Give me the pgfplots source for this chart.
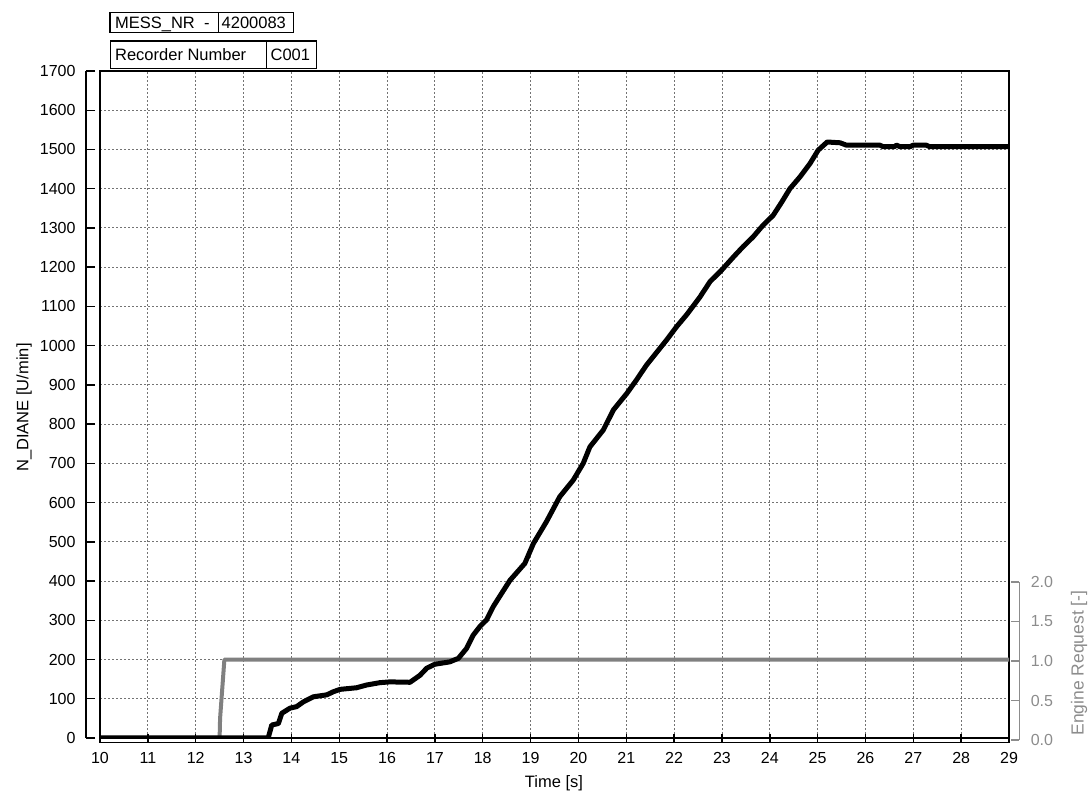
\documentclass[border=0pt]{standalone}
\usepackage{fontspec}
\setmainfont{Liberation Sans}
\usepackage{pgfplots}
\pgfplotsset{compat=1.18}
\newcommand\tf{\fontsize{16}{19}\selectfont}
\newcommand\lf{\fontsize{16.5}{19}\selectfont}
\definecolor{sergrey}{RGB}{128,128,128}
\definecolor{axgrey}{RGB}{140,140,140}
\begin{document}
\begin{tikzpicture}[x=1pt,y=1pt]
\useasboundingbox (0,0) rectangle (1089,794);
% frame with grid
\begin{axis}[at={(100pt,56pt)}, anchor=south west, scale only axis,
  width=909pt, height=667pt, xmin=10, xmax=29, ymin=0, ymax=1700,
  xtick={11,...,28}, ytick={100,200,...,1600}, xticklabels={}, yticklabels={},
  major tick length=0pt, grid=major,
  major grid style={black!55, line width=0.9pt, dash pattern=on 2pt off 2pt},
  axis line style={black, line width=1.4pt}]
\end{axis}
% engine request series (secondary scale 0..8.5 so that 1.0 = 200)
\begin{axis}[at={(100pt,56pt)}, anchor=south west, scale only axis,
  width=909pt, height=667pt, xmin=10, xmax=29, ymin=0, ymax=8.5, hide axis]
\addplot[sergrey, line width=4pt, line join=round] coordinates {
(10,0) (12.50,0) (12.51,0.25) (12.60,1.0) (29,1.0)};
\end{axis}
% N_DIANE series
\begin{axis}[at={(100pt,56pt)}, anchor=south west, scale only axis,
  width=909pt, height=667pt, xmin=10, xmax=29, ymin=0, ymax=1700, hide axis]
\addplot[black, line width=5pt, line join=round] coordinates {
(10,0) (13.50,0) (13.52,2) (13.59,33) (13.73,37) (13.80,63) (13.97,76)
(14.11,80) (14.25,92) (14.46,105) (14.74,110) (14.88,118) (15.02,124)
(15.36,128) (15.57,135) (15.85,141) (16.06,143) (16.48,142) (16.69,160)
(16.83,178) (17.00,188) (17.31,194) (17.49,203) (17.66,228) (17.80,262)
(17.94,284) (18.08,301) (18.22,335) (18.36,362) (18.57,402) (18.88,445)
(19.06,496) (19.33,551) (19.61,615) (19.89,657) (20.10,700) (20.24,742)
(20.52,785) (20.73,836) (21.01,878) (21.21,912) (21.42,950) (21.65,985)
(21.84,1014) (22.05,1048) (22.27,1080) (22.54,1124) (22.75,1163)
(22.99,1192) (23.24,1226) (23.44,1252) (23.65,1277) (23.86,1307)
(24.07,1332) (24.25,1366) (24.42,1400) (24.63,1430) (24.84,1464)
(25.01,1498) (25.20,1519) (25.47,1517) (25.60,1511) (26.30,1511)
(26.37,1507) (26.60,1507) (26.65,1511) (26.72,1507) (26.93,1507)
(27.00,1511) (27.27,1511) (27.34,1507) (29,1507)};
\end{axis}
% left y axis
\begin{axis}[at={(86pt,56pt)}, anchor=south east, scale only axis,
  width=5pt, height=667pt, xmin=0, xmax=1, ymin=0, ymax=1700,
  axis y line=right, axis x line=none, ytick={0,100,...,1700},
  yticklabel pos=right, tick align=outside, major tick length=9pt,
  axis line style={-, black, line width=1.4pt},
  tick style={black, line width=1.4pt},
  yticklabel style={font=\tf, anchor=east, xshift=-16pt},
  /pgf/number format/assume math mode=true, /pgf/number format/1000 sep={}]
\end{axis}
% bottom x axis
\begin{axis}[at={(100pt,51.3pt)}, anchor=north west, scale only axis,
  width=909pt, height=5pt, xmin=10, xmax=29, ymin=0, ymax=1,
  axis x line=top, axis y line=none, xtick={10,...,29}, xticklabel pos=bottom,
  tick align=outside, major tick length=9pt,
  axis line style={-, black, line width=1.4pt},
  tick style={black, line width=1.4pt},
  xticklabel style={font=\tf, anchor=north, yshift=-15pt},
  /pgf/number format/assume math mode=true]
\end{axis}
% right secondary axis
\begin{axis}[at={(1019.3pt,54pt)}, anchor=south west, scale only axis,
  width=5pt, height=158pt, xmin=0, xmax=1, ymin=0, ymax=2,
  axis y line=left, axis x line=none, ytick={0,0.5,...,2},
  yticklabel pos=right, tick align=outside, major tick length=8pt,
  axis line style={-, axgrey, line width=1.4pt},
  tick style={axgrey, line width=1.4pt},
  yticklabel style={font=\tf, text=axgrey, anchor=west, xshift=16pt},
  /pgf/number format/assume math mode=true,
  /pgf/number format/.cd, fixed, fixed zerofill, precision=1]
\end{axis}
% axis titles
\node[font=\lf, rotate=90, anchor=base] at (28.3,386.5) {N\_DIANE [U/min]};
\node[font=\lf, anchor=base] at (554,6.3) {Time [s]};
\node[font=\fontsize{17.5}{20}\selectfont, text=axgrey, rotate=90, anchor=base] at (1083.5,131) {Engine Request [-]};
% header boxes
\begin{scope}[line width=1.3pt, font=\lf]
\draw (110,761.3) rectangle (218.3,781.3);
\draw (218.3,761.3) rectangle (293.3,781.3);
\draw (110.7,725.7) rectangle (266.7,753);
\draw (266.7,725.7) rectangle (316.7,753);
\node[anchor=base west, inner sep=0] at (114.5,765.5) {MESS\_NR\ \ -};
\node[anchor=base west, inner sep=0] at (221,765.5) {4200083};
\node[anchor=base west, inner sep=0] at (114.5,733.5) {Recorder Number};
\node[anchor=base west, inner sep=0] at (270,733.5) {C001};
\end{scope}
\end{tikzpicture}
\end{document}
